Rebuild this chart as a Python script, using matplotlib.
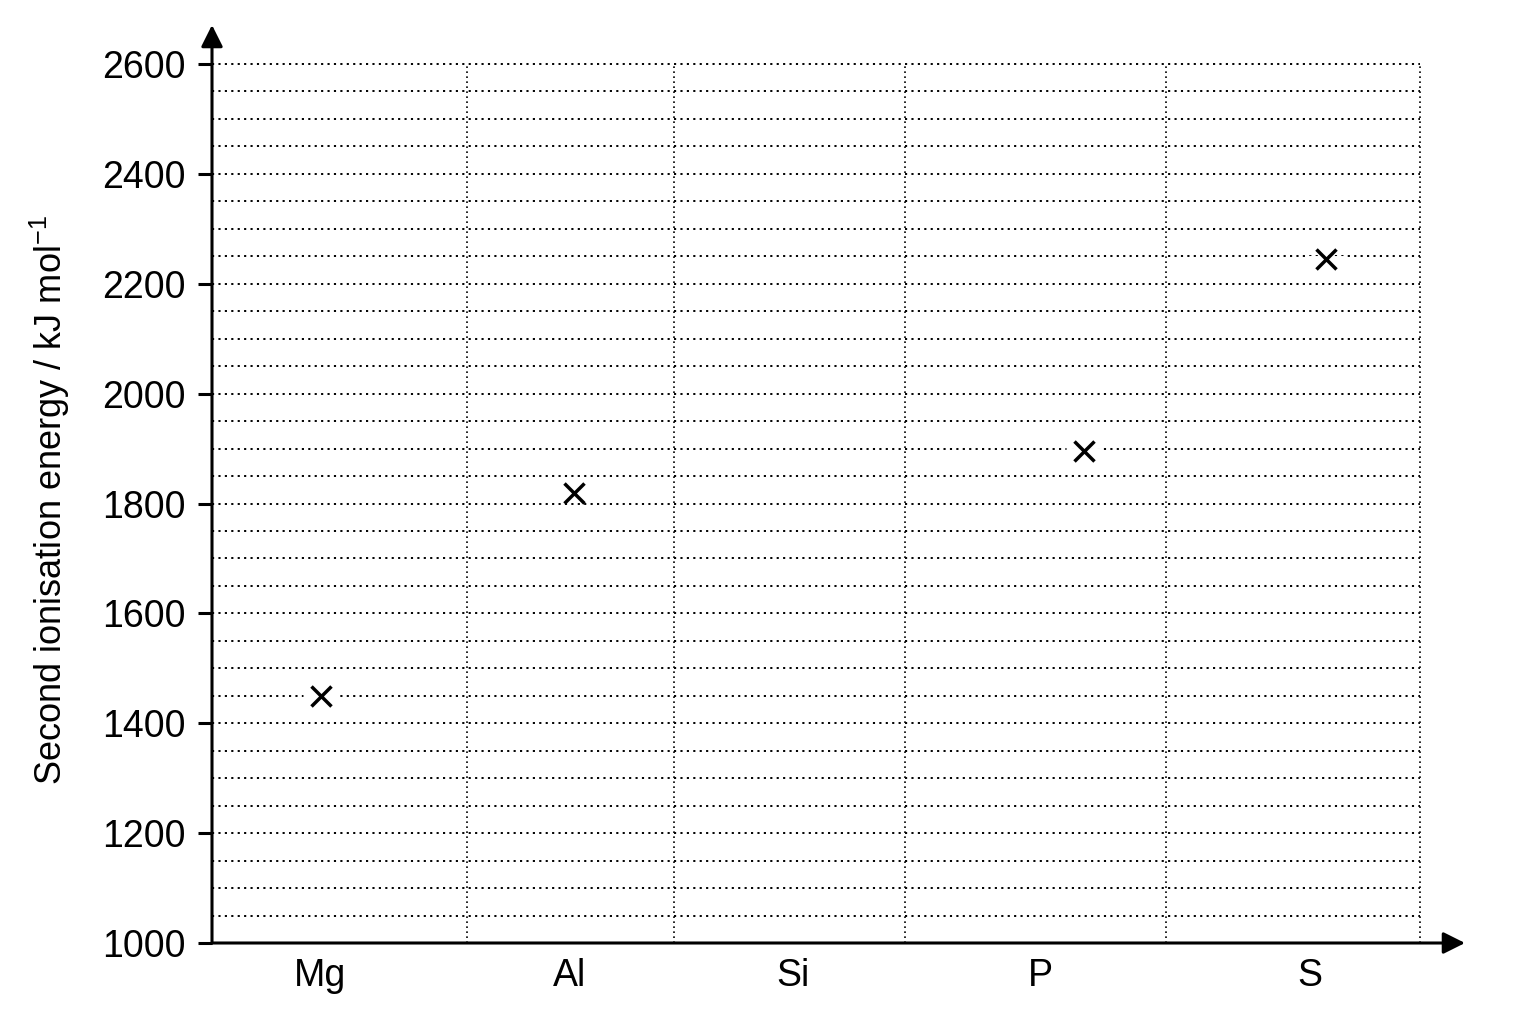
import matplotlib
matplotlib.use("Agg")
import matplotlib.pyplot as plt
from matplotlib import font_manager
import numpy as np

# ---- data ----
elements = ["Mg", "Al", "Si", "P", "S"]
second_ie = [1450, 1820, np.nan, 1895, 2245]   # kJ mol-1 (Si not plotted)
y_ticks = [1000, 1200, 1400, 1600, 1800, 2000, 2200, 2400, 2600]
y_ticklabels = ["1000", "1200", "1400", "1600", "1800", "2000", "2200", "2400", "2600"]
y_minor_step = 50
y_label = "Second ionisation energy / kJ mol$^{-1}$"

# ---- layout (horizontal positions along the category axis) ----
label_pos = [108, 358, 581, 828, 1098]
marker_pos = [109, 362, 581, 872, 1114]
column_edges = [255, 462, 693, 954, 1208]
x_max = 1253
y_top = 2671

names = {f.name for f in font_manager.fontManager.ttflist}
if "Liberation Sans Narrow" in names:
    tick_font, tick_size = "Liberation Sans Narrow", 29
else:
    tick_font, tick_size = "Liberation Sans", 27

plt.rcParams["font.family"] = ["Liberation Sans", "DejaVu Sans"]
plt.rcParams["mathtext.fontset"] = "custom"
plt.rcParams["mathtext.rm"] = "Liberation Sans"
plt.rcParams["mathtext.default"] = "regular"

fig = plt.figure(figsize=(15.36, 10.24), dpi=100)
W, H = 1536, 1024
ax = fig.add_axes([212 / W, (H - 943) / H, (1465 - 212) / W, (943 - 25) / H])
ax.set_xlim(0, x_max)
ax.set_ylim(1000, y_top)

for s in ax.spines.values():
    s.set_visible(False)

# horizontal dotted grid
grid_y = np.arange(y_ticks[0] + y_minor_step, y_ticks[-1] + 1, y_minor_step)
ax.hlines(grid_y, 0, column_edges[-1], colors="black", lw=1.4,
          linestyles=[(0, (1.1, 2.2))], zorder=1)
# vertical dotted grid
ax.vlines(column_edges, y_ticks[0], y_ticks[-1], colors="black", lw=1.2,
          linestyles=[(0, (1.0, 2.0))], zorder=1)

# axes with arrows
arrow_kw = dict(arrowstyle="-|>,head_length=0.6,head_width=0.3", lw=2.2, color="black",
                shrinkA=0, shrinkB=0, mutation_scale=22)
ax.annotate("", xy=(1, 0), xytext=(0, 0), xycoords="axes fraction",
            arrowprops=arrow_kw, annotation_clip=False, zorder=5)
ax.annotate("", xy=(0, 1), xytext=(0, 0), xycoords="axes fraction",
            arrowprops=arrow_kw, annotation_clip=False, zorder=5)

# markers: white gap in grid then cross
ax.plot(marker_pos, second_ie, linestyle="none", marker="_", markersize=26,
        mew=5, color="white", zorder=3)
ax.plot(marker_pos, second_ie, linestyle="none", marker="x", markersize=14,
        mew=2.5, color="black", zorder=4)

ax.set_yticks(y_ticks)
ax.set_yticklabels(y_ticklabels, fontfamily=tick_font, fontsize=tick_size)
ax.set_xticks(label_pos)
ax.set_xticklabels(elements, fontfamily=tick_font, fontsize=tick_size)
ax.tick_params(axis="y", length=10, width=2.2, direction="out", pad=9, color="black")
ax.tick_params(axis="x", length=0, pad=11)

fig.text(50 / W, 1 - 500 / H, y_label, rotation=90, ha="center", va="center",
         fontsize=26)

fig.savefig("out.png", dpi=100, facecolor="white")
